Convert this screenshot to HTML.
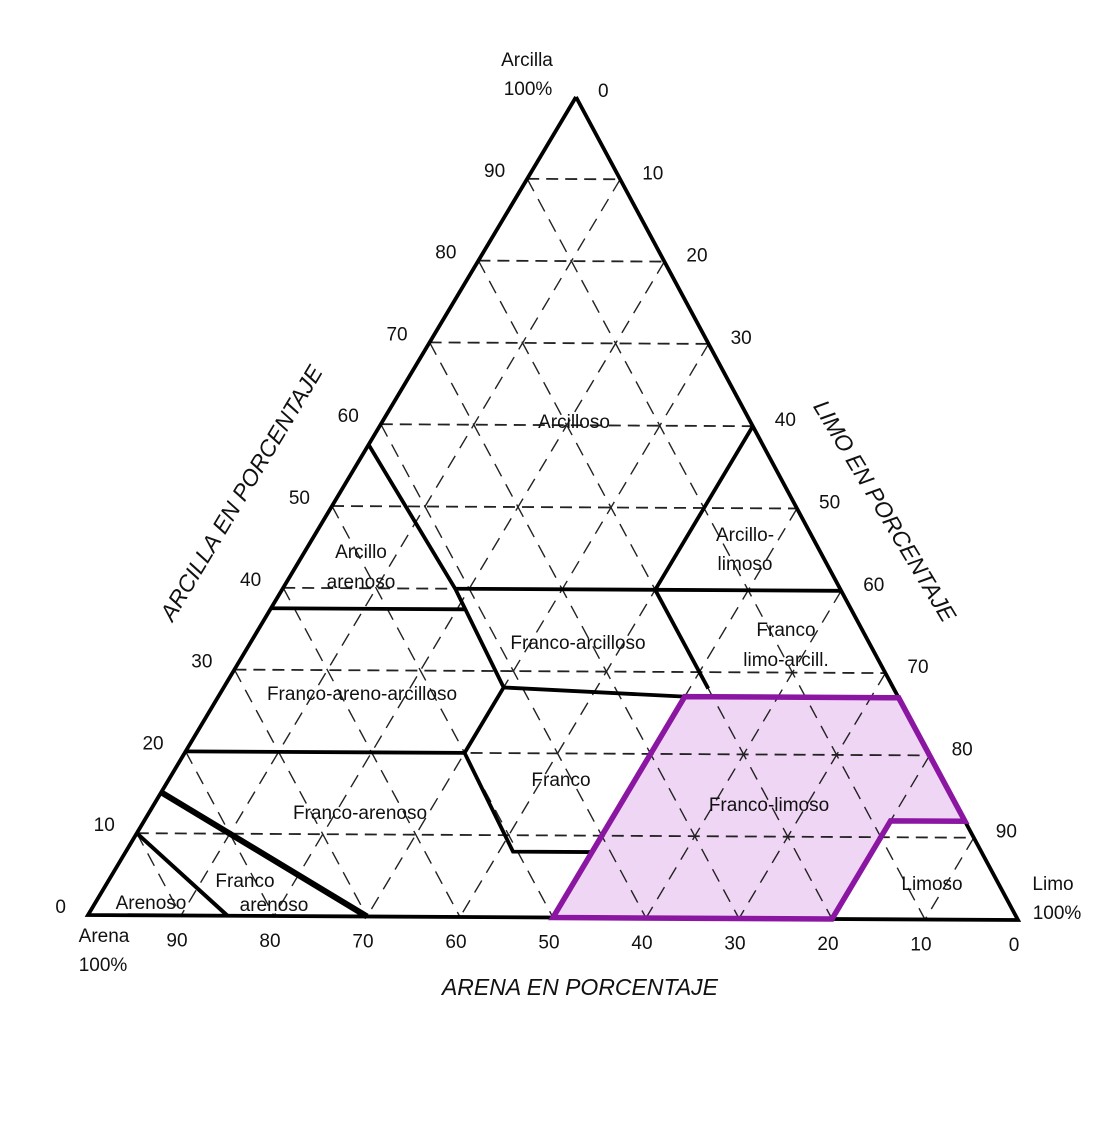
<!DOCTYPE html>
<html><head><meta charset="utf-8"><style>
body{margin:0;background:#fff}
svg{display:block}
text{font-family:"Liberation Sans",sans-serif;fill:#111}
</style></head><body>
<svg id="chart" width="1116" height="1127" viewBox="0 0 1116 1127" xmlns="http://www.w3.org/2000/svg">
<g id="grid"></g>
<g id="classes"></g>
<g id="labels"></g>
<text x="527" y="66" font-size="19" text-anchor="middle">Arcilla</text>
<text x="528" y="95" font-size="19" text-anchor="middle">100%</text>
<text x="1053" y="890" font-size="19" text-anchor="middle">Limo</text>
<text x="1057" y="919" font-size="19" text-anchor="middle">100%</text>
<text x="104" y="942" font-size="19" text-anchor="middle">Arena</text>
<text x="103" y="971" font-size="19" text-anchor="middle">100%</text>
<text x="580" y="995" font-size="23" font-style="italic" text-anchor="middle">ARENA EN PORCENTAJE</text>
<text transform="translate(248,497) rotate(-59)" font-size="23" font-style="italic" text-anchor="middle">ARCILLA EN PORCENTAJE</text>
<text transform="translate(878,515) rotate(59)" font-size="23" font-style="italic" text-anchor="middle">LIMO EN PORCENTAJE</text>
</svg>
<script>
// vertices: sand 100, silt 100, clay 100
const vertA=[88,915], vertL=[1018,920], vertC=[576,97];
const ticks=[0,10,20,30,40,50,60,70,80,90];
// class polygons as [sand, silt, clay] triples
const siltLoam=[[50,50,0],[20,80,0],[8,80,12],[0,88,12],[0,73,27],[23,50,27]];
const boundaries=[
 [[42.5,0,57.5],[41.5,18.5,40],[42,30,28],[50,30,20],[50.5,41.5,8],[42,50,8]],
 [[41.5,18.5,40],[0,60,40]],
 [[20,40,40],[0,40,60]],
 [[41.7,20.8,37.5],[62.5,0,37.5]],
 [[20,40,40],[20,52,28]],
 [[42,30,28],[23,50,27]],
 [[50,30,20],[80,0,20]],
 [[0,0,100],[100,0,0],[0,100,0],[0,0,100]]
];
const thickBounds=[[[70,30,0],[85,0,15]],[[85,15,0],[90,0,10]]];
const classNames=["Arcilloso","Arcillo-","limoso","Arcillo","arenoso","Franco-arcilloso","Franco","limo-arcill.","Franco-areno-arcilloso","Franco","Franco-arenoso","Franco","arenoso","Arenoso","Limoso","Franco-limoso"];
const classPos=[[574,428],[745,541],[745,570],[361,558],[361,588],[578,649],[786,636],[786,666],[362,700],[561,786],[360,819],[245,887],[274,911],[151,909],[932,890],[769,811]];
function P(s,t,c){const x=(s*vertA[0]+t*vertL[0]+c*vertC[0])/100;const y=(s*vertA[1]+t*vertL[1]+c*vertC[1])/100;return [x,y];}
const NS="http://www.w3.org/2000/svg";
function el(tag,attrs,parent){const e=document.createElementNS(NS,tag);for(const k in attrs)e.setAttribute(k,attrs[k]);parent.appendChild(e);return e;}
const grid=document.getElementById('grid'),cls=document.getElementById('classes'),lab=document.getElementById('labels');
const pp=el('polygon',{points:siltLoam.map(p=>P(...p).join(',')).join(' '),fill:'#f0d6f5',stroke:'none'},grid);


ticks.slice(1).forEach(v=>{
 const fams=[[P(100-v,0,v),P(0,100-v,v)],[P(v,0,100-v),P(v,100-v,0)],[P(0,v,100-v),P(100-v,v,0)]];
 fams.forEach((f,i)=>{
  const l=el('line',{x1:f[0][0],y1:f[0][1],x2:f[1][0],y2:f[1][1],stroke:'#222','stroke-width':i==0?1.8:1.4,'stroke-dasharray':i==0?'12,7':'14,9'},grid);
  
  
 });
});
boundaries.forEach(b=>{
 const pl=el('polyline',{points:b.map(p=>P(...p).join(',')).join(' '),fill:'none',stroke:'#000','stroke-width':3.8},cls);
 
 
});
thickBounds.forEach((b,i)=>{
 const pl=el('polyline',{points:b.map(p=>P(...p).join(',')).join(' '),fill:'none',stroke:'#000','stroke-width':i==0?6:4},cls);
 
 
});
const po=el('polygon',{points:siltLoam.map(p=>P(...p).join(',')).join(' '),fill:'none',stroke:'#8b16a2','stroke-width':5.5},cls);


classNames.forEach((n,i)=>{
 const t=el('text',{x:classPos[i][0],y:classPos[i][1],'text-anchor':'middle','font-size':19,fill:i==15?'#5a3a60':'#111'},lab);
 t.textContent=n;
 
 
});
ticks.forEach(v=>{
 let p=P(100-v,0,v);
 let t=el('text',{x:p[0]-22,y:p[1]-2,'text-anchor':'end','font-size':19},lab);t.textContent=v;
 
 
 p=P(0,v,100-v);
 t=el('text',{x:p[0]+22,y:p[1],'font-size':19},lab);t.textContent=v;
 
 
 p=P(v,100-v,0);
 t=el('text',{x:p[0]-4,y:p[1]+31,'text-anchor':'middle','font-size':19},lab);t.textContent=v;
 
 
});
</script>
</body></html>
